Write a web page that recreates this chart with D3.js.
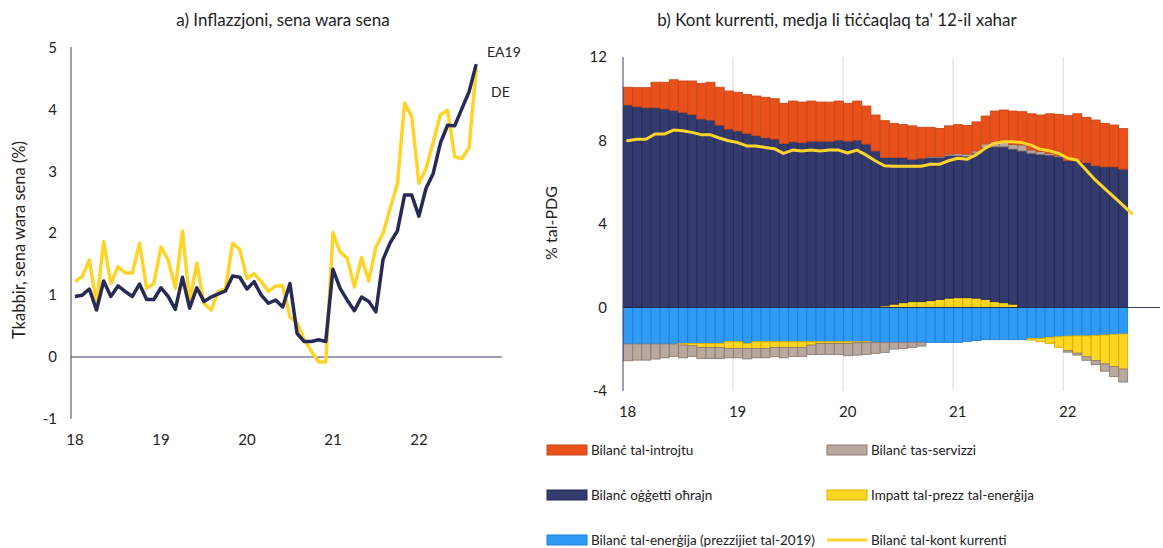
<!DOCTYPE html>
<html><head><meta charset="utf-8">
<script src="https://cdn.jsdelivr.net/npm/d3@7"></script>
<style>
body{margin:0;background:#fff;}
svg{display:block;font-family:Lato,"Noto Sans",sans-serif;}
</style></head>
<body><svg id="c" width="1163" height="548"></svg>
<script>
// ---------- Panel a: inflation (Jan 2018 .. Sep 2022) ----------
const yearLabels = ["18","19","20","21","22"];
const ea19 = [0.98,1.0,1.1,0.76,1.23,0.98,1.15,1.06,0.98,1.18,0.93,0.93,1.12,0.98,0.77,1.29,0.79,1.12,0.9,0.97,1.02,1.07,1.31,1.29,1.1,1.22,1.0,0.87,0.92,0.81,1.19,0.38,0.25,0.25,0.28,0.25,1.42,1.11,0.92,0.75,0.97,0.9,0.73,1.58,1.85,2.04,2.62,2.62,2.28,2.73,2.97,3.46,3.75,3.74,4.02,4.29,4.74];
const de = [1.22,1.3,1.57,0.85,1.87,1.19,1.46,1.36,1.36,1.84,1.11,1.19,1.78,1.57,1.11,2.04,0.9,1.52,0.87,0.76,1.06,1.11,1.84,1.74,1.27,1.35,1.22,1.06,1.15,1.15,0.65,0.55,0.28,0.09,-0.08,-0.08,2.01,1.7,1.6,1.13,1.61,1.23,1.78,2.0,2.41,2.8,4.11,3.89,2.81,3.05,3.48,3.92,3.99,3.24,3.21,3.39,4.67];
const leftTicks = [-1,0,1,2,3,4,5];

// ---------- Panel b: current account, 12m moving average (% GDP) ----------
const income = [0.85,0.91,0.96,1.22,1.28,1.46,1.50,1.60,1.71,1.81,1.81,1.82,1.85,1.86,1.90,1.94,1.93,1.92,1.95,1.93,1.92,1.87,1.87,1.87,1.81,1.87,1.82,1.72,1.76,1.63,1.57,1.60,1.48,1.39,1.34,1.35,1.39,1.37,1.39,1.33,1.47,1.49,1.60,1.59,1.73,1.75,1.90,1.98,2.16,2.25,2.17,2.19,2.08,2.00,1.94];
const otherGoods = [9.65,9.57,9.57,9.57,9.51,9.45,9.35,9.25,9.03,8.98,8.74,8.55,8.46,8.34,8.23,8.13,8.07,7.86,7.94,7.91,7.97,7.97,7.97,8.02,7.97,8.02,7.83,7.50,7.11,7.03,6.96,6.82,6.87,6.86,6.80,6.82,6.80,6.77,6.94,7.27,7.42,7.47,7.43,7.50,7.39,7.34,7.30,7.22,7.03,7.03,6.94,6.79,6.74,6.74,6.63];
const energy = [-1.75,-1.75,-1.75,-1.75,-1.75,-1.75,-1.72,-1.72,-1.72,-1.72,-1.72,-1.64,-1.64,-1.72,-1.64,-1.64,-1.64,-1.64,-1.64,-1.64,-1.64,-1.64,-1.64,-1.64,-1.64,-1.64,-1.64,-1.67,-1.67,-1.67,-1.67,-1.67,-1.67,-1.67,-1.67,-1.67,-1.67,-1.62,-1.58,-1.54,-1.54,-1.54,-1.54,-1.54,-1.48,-1.48,-1.43,-1.40,-1.37,-1.36,-1.36,-1.34,-1.32,-1.29,-1.27];
const priceImpact = [0.05,0.05,0,0,0,0,-0.08,-0.11,-0.19,-0.19,-0.19,-0.32,-0.32,-0.24,-0.32,-0.32,-0.27,-0.27,-0.27,-0.27,-0.16,-0.08,-0.08,-0.08,-0.08,-0.05,-0.05,0,0.08,0.16,0.23,0.28,0.28,0.33,0.39,0.45,0.47,0.47,0.45,0.39,0.28,0.23,0.16,0,-0.08,-0.16,-0.29,-0.51,-0.7,-0.83,-1.0,-1.2,-1.38,-1.54,-1.68];
const services = [-0.80,-0.77,-0.77,-0.72,-0.66,-0.59,-0.61,-0.51,-0.54,-0.54,-0.54,-0.45,-0.45,-0.50,-0.45,-0.45,-0.45,-0.50,-0.43,-0.43,-0.45,-0.53,-0.53,-0.53,-0.59,-0.59,-0.56,-0.53,-0.48,-0.32,-0.29,-0.24,-0.18,0.05,0.05,0.08,0.10,0.11,0.11,0.18,0.24,0.27,0.22,0.29,0.16,0.13,0.08,0.05,-0.07,-0.09,-0.17,-0.2,-0.35,-0.48,-0.62];
const currentAccount = [7.99,8.06,8.06,8.31,8.31,8.50,8.47,8.39,8.28,8.28,8.12,7.99,7.90,7.74,7.74,7.67,7.61,7.38,7.54,7.50,7.54,7.50,7.54,7.54,7.40,7.54,7.31,7.03,6.79,6.77,6.77,6.77,6.77,6.86,6.86,7.03,7.15,7.10,7.31,7.63,7.87,7.94,7.94,7.90,7.78,7.58,7.51,7.38,7.15,7.07,6.59,6.11,5.71,5.31,4.90,4.50];
const rightTicks = [-4,0,4,8,12];

const seriesKeys = ["energy","priceImpact","otherGoods","services","income"];
const seriesNames = {
  income:"Bilanċ tal-introjtu", services:"Bilanċ tas-servizzi", otherGoods:"Bilanċ oġġetti oħrajn",
  priceImpact:"Impatt tal-prezz tal-enerġija", energy:"Bilanċ tal-enerġija (prezzijiet tal-2019)", line:"Bilanċ tal-kont kurrenti"
};
const fills = {income:"#E8511A", services:"#B8A89E", otherGoods:"#333A6E", priceImpact:"#FFD524", energy:"#2F9BF6"};
const strokes = {income:"#C9481A", services:"#8E7D74", otherGoods:"#252A52", priceImpact:"#D8B100", energy:"#1F7FD6"};
const NAVY = "#262A55", YEL = "#FFD42A";

const svg = d3.select("#c");
const txt = "#222";

// ================= Panel a =================
const xL = d3.scaleLinear().domain([-0.56, 59.6]).range([71, 502]);
const yL = d3.scaleLinear().domain([-1, 5]).range([418.8, 48]);
const gL = svg.append("g");
gL.append("text").attr("x", 283).attr("y", 26).attr("text-anchor","middle").attr("font-size",17).attr("fill",txt)
  .text("a) Inflazzjoni, sena wara sena");
gL.append("text").attr("transform","translate(25,240) rotate(-90)").attr("text-anchor","middle").attr("font-size",16.5).attr("fill",txt)
  .text("Tkabbir, sena wara sena (%)");
gL.append("line").attr("x1",71).attr("x2",71).attr("y1",yL(5)-1).attr("y2",yL(-1)).attr("stroke","#3a3d6a").attr("stroke-width",1);
gL.selectAll(".yt").data(leftTicks).join("text").attr("x",57).attr("y",d=>yL(d)+5).attr("text-anchor","end")
  .attr("font-size",15).attr("fill",txt).text(d=>d);
gL.append("line").attr("x1",71).attr("x2",502).attr("y1",yL(0)).attr("y2",yL(0)).attr("stroke","#3a3d6a").attr("stroke-width",1);
gL.selectAll(".xt").data(yearLabels).join("text").attr("x",(d,i)=>xL(i*12)).attr("y",445).attr("text-anchor","middle")
  .attr("font-size",15).attr("fill",txt).text(d=>d);
const lineL = d3.line().x((d,i)=>xL(i)).y(d=>yL(d));
gL.append("path").attr("d",lineL(de)).attr("fill","none").attr("stroke",YEL).attr("stroke-width",3.5).attr("stroke-linejoin","round");
gL.append("path").attr("d",lineL(ea19)).attr("fill","none").attr("stroke",NAVY).attr("stroke-width",3.5).attr("stroke-linejoin","round");
gL.append("text").attr("x",487).attr("y",57).attr("font-size",14).attr("fill",txt).text("EA19");
gL.append("text").attr("x",491).attr("y",97).attr("font-size",14).attr("fill",txt).text("DE");

// ================= Panel b =================
const xR = d3.scaleLinear().domain([0, 58.56]).range([623, 1160]);
const yR = d3.scaleLinear().domain([-4, 12]).range([391, 57]);
const gR = svg.append("g");
gR.append("text").attr("x", 837).attr("y", 26).attr("text-anchor","middle").attr("font-size",17).attr("fill",txt)
  .text("b) Kont kurrenti, medja li tiċċaqlaq ta' 12-il xahar");
gR.append("text").attr("transform","translate(557,223) rotate(-90)").attr("text-anchor","middle").attr("font-size",16).attr("fill",txt)
  .text("% tal-PDG");
gR.selectAll(".grid").data([12,24,36,48]).join("line").attr("x1",d=>xR(d)).attr("x2",d=>xR(d))
  .attr("y1",yR(12)).attr("y2",yR(-4)).attr("stroke","#d9d9d9").attr("stroke-width",1);
gR.selectAll(".yt").data(rightTicks).join("text").attr("x",607).attr("y",d=>yR(d)+5).attr("text-anchor","end")
  .attr("font-size",15).attr("fill",txt).text(d=>d);
gR.selectAll(".xt").data(yearLabels).join("text").attr("x",(d,i)=>xR(i*12+0.5)).attr("y",417).attr("text-anchor","middle")
  .attr("font-size",15).attr("fill",txt).text(d=>d);

const rows = income.map((v,i)=>({i, income:v, otherGoods:otherGoods[i], energy:energy[i], priceImpact:priceImpact[i], services:services[i]}));
const stack = d3.stack().keys(seriesKeys).order(d3.stackOrderNone).offset(d3.stackOffsetDiverging);
const stacked = stack(rows);
stacked.forEach(s=>{
  gR.append("g").selectAll("rect").data(s.filter(d=>d[1]!==d[0])).join("rect")
    .attr("x",d=>xR(d.data.i)+0.5).attr("width",d=>xR(d.data.i+1)-xR(d.data.i)-0.2)
    .attr("y",d=>yR(Math.max(d[0],d[1]))).attr("height",d=>Math.abs(yR(d[0])-yR(d[1])))
    .attr("fill",fills[s.key]).attr("stroke",strokes[s.key]).attr("stroke-width",0.9);
});
gR.append("line").attr("x1",623).attr("x2",623).attr("y1",yR(12)).attr("y2",yR(-4)).attr("stroke","#3a3d6a").attr("stroke-width",1);
gR.append("line").attr("x1",xR(55)).attr("x2",1160).attr("y1",yR(0)).attr("y2",yR(0)).attr("stroke","#3a3d6a").attr("stroke-width",1);
gR.append("line").attr("x1",623).attr("x2",xR(55)).attr("y1",yR(0)).attr("y2",yR(0)).attr("stroke","#252A52").attr("stroke-width",1);
const lineR = d3.line().x((d,i)=>xR(i+0.5)).y(d=>yR(d));
gR.append("path").attr("d",lineR(currentAccount)).attr("fill","none").attr("stroke",YEL).attr("stroke-width",3)
  .attr("stroke-linejoin","round").attr("stroke-linecap","round");

// ================= Legend =================
const legendItems = [
  {k:"income", col:0,row:0},{k:"services",col:1,row:0},
  {k:"otherGoods",col:0,row:1},{k:"priceImpact",col:1,row:1},
  {k:"energy",col:0,row:2},{k:"line",col:1,row:2}
];
const lg = svg.append("g");
legendItems.forEach(it=>{
  const x0 = it.col===0 ? 547 : 827;
  const yc = 450 + it.row*45;
  if(it.k==="line"){
    lg.append("line").attr("x1",x0).attr("x2",x0+40).attr("y1",yc).attr("y2",yc).attr("stroke",YEL).attr("stroke-width",3);
  } else {
    lg.append("rect").attr("x",x0).attr("y",yc-5).attr("width",40).attr("height",10)
      .attr("fill",fills[it.k]).attr("stroke",strokes[it.k]).attr("stroke-width",1);
  }
  lg.append("text").attr("x",x0+44).attr("y",yc+5).attr("font-size",13.5).attr("fill",txt).text(seriesNames[it.k]);
});
</script></body></html>
